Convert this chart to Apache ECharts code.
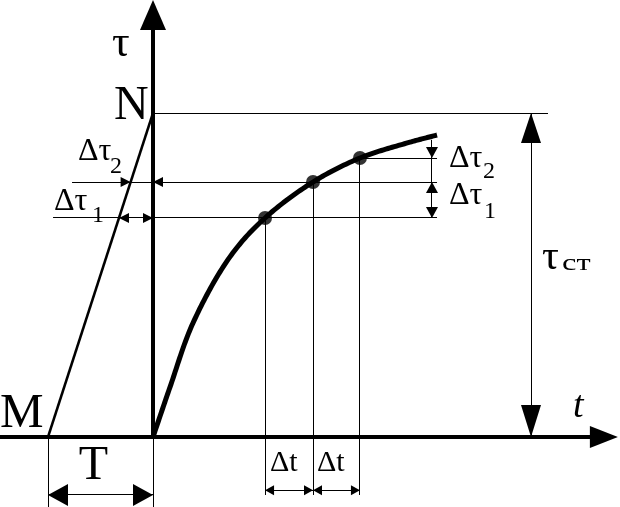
<!DOCTYPE html>
<html><head><meta charset="utf-8">
<script src="https://cdn.jsdelivr.net/npm/echarts@6/dist/echarts.min.js"></script>
<style>html,body{margin:0;padding:0;background:#fff}#c{width:620px;height:507px}</style>
</head><body><div id="c"></div>
<script>
// ---------- data (units: T = 1 on the t axis, tau_st = 1 on the tau axis) ----------
const T = 1;
const tauSt = 1;
const curveT   = [0, 0.162, 0.381, 0.733, 1.067, 1.524, 1.971, 2.448, 2.705];
const curveTau = [0, 0.154, 0.352, 0.556, 0.676, 0.787, 0.861, 0.910, 0.932];
const markT   = [1.067, 1.524, 1.971];
const markTau = [0.676, 0.787, 0.861];

// ---------- layout (data units) ----------
const X_MIN = -153 / 105, X_MAX = 467 / 105;
const Y_MIN = -70 / 324,  Y_MAX = 437 / 324;
const leftStart = [-0.952, -0.771];   // left ends of the tau1 / tau2 guide lines
const guideEnd = 2.705;               // right end of guide lines
const topLineEnd = 3.762;
const dimTauX = 2.657;                // x of the delta-tau dimension
const dimTauTop = 0.917;
const stArrowX = 3.6;                 // x of tau_st dimension
const dropBottom = -0.179;
const dtArrowY = -0.164;
const tArrowY = -0.179;

const chart = echarts.init(document.getElementById('c'), null, {renderer: 'canvas'});

function snap(v, w) { return (Math.round(w) % 2 === 1) ? Math.floor(v) + 0.5 : Math.round(v); }

// centripetal Catmull-Rom through pixel points (rendering only)
function catmull(pts, steps) {
  const out = [];
  const n = pts.length;
  const get = i => pts[Math.max(0, Math.min(n - 1, i))];
  for (let i = 0; i < n - 1; i++) {
    let p0 = get(i - 1), p1 = get(i), p2 = get(i + 1), p3 = get(i + 2);
    if (i === 0) p0 = [2 * p1[0] - p2[0], 2 * p1[1] - p2[1]];
    if (i === n - 2) p3 = [2 * p2[0] - p1[0], 2 * p2[1] - p1[1]];
    const d = (a, b) => Math.pow(Math.hypot(b[0] - a[0], b[1] - a[1]), 0.5) || 1e-4;
    const t0 = 0, t1 = t0 + d(p0, p1), t2 = t1 + d(p1, p2), t3 = t2 + d(p2, p3);
    for (let s = 0; s < steps; s++) {
      const t = t1 + (t2 - t1) * s / steps;
      const L = (a, b, ta, tb) => [
        (tb - t) / (tb - ta) * a[0] + (t - ta) / (tb - ta) * b[0],
        (tb - t) / (tb - ta) * a[1] + (t - ta) / (tb - ta) * b[1]];
      const A1 = L(p0, p1, t0, t1), A2 = L(p1, p2, t1, t2), A3 = L(p2, p3, t2, t3);
      const B1 = L(A1, A2, t0, t2), B2 = L(A2, A3, t1, t3);
      out.push(L(B1, B2, t1, t2));
    }
  }
  out.push(pts[n - 1]);
  return out;
}

function renderCurve(params, api) {
  const pts = curveT.map((t, i) => api.coord([t, curveTau[i]]));
  return {type: 'polyline', shape: {points: catmull(pts, 24)},
    style: {stroke: '#000', lineWidth: 5, fill: null, lineJoin: 'round'}};
}

function renderAll(params, api) {
  const children = [];
  const P = p => api.coord(p);
  function seg(a, b, w) {
    const A = P(a), B = P(b);
    let x1 = A[0], y1 = A[1], x2 = B[0], y2 = B[1];
    if (Math.abs(x1 - x2) < 0.01) { x1 = x2 = snap(x1, w); }
    if (Math.abs(y1 - y2) < 0.01) { y1 = y2 = snap(y1, w); }
    children.push({type: 'line', shape: {x1, y1, x2, y2}, style: {stroke: '#000', lineWidth: w}});
  }
  function head(tip, dir, len, hw) {
    const t = P(tip);
    const d = {l: [-1, 0], r: [1, 0], u: [0, -1], d: [0, 1]}[dir];
    const bx = t[0] - d[0] * len, by = t[1] - d[1] * len;
    const px = -d[1], py = d[0];
    children.push({type: 'polygon', shape: {points: [[t[0], t[1]], [bx + px * hw, by + py * hw], [bx - px * hw, by - py * hw]]},
      style: {fill: '#000'}});
  }
  // main axes
  seg([X_MIN, 0], [X_MAX - 0.2, 0], 4);
  head([X_MAX - 0.02, 0], 'r', 28, 11);
  seg([0, 0], [0, Y_MAX - 0.05], 4);
  head([0, Y_MAX], 'u', 30, 13);

  // horizontal line from N
  seg([0, tauSt], [topLineEnd, tauSt], 1);
  // guide lines tau1, tau2, tau3
  seg([leftStart[0], markTau[0]], [guideEnd, markTau[0]], 1);
  seg([leftStart[1], markTau[1]], [guideEnd, markTau[1]], 1);
  seg([markT[2], markTau[2]], [guideEnd, markTau[2]], 1);
  // drop lines
  for (let i = 0; i < markT.length; i++) seg([markT[i], markTau[i]], [markT[i], dropBottom], 1);
  // T extension lines
  seg([-T, 0], [-T, Y_MIN], 1);
  seg([0, 0], [0, Y_MIN], 1);

  // left delta-tau arrowheads (on the line M-N and on the axis)
  const xMN = tau => -T + T * tau / tauSt;
  head([xMN(markTau[1]), markTau[1]], 'r', 10, 5);
  head([0, markTau[1]], 'l', 10, 5);
  head([xMN(markTau[0]), markTau[0]], 'l', 10, 5);
  head([0, markTau[0]], 'r', 10, 5);

  // right delta-tau dimension
  seg([dimTauX, dimTauTop], [dimTauX, markTau[0]], 1);
  head([dimTauX, markTau[2]], 'd', 11, 6);
  head([dimTauX, markTau[1]], 'u', 11, 6);
  head([dimTauX, markTau[0]], 'd', 11, 6);

  // tau_st dimension
  seg([stArrowX, tauSt], [stArrowX, 0], 1);
  head([stArrowX, tauSt], 'u', 30, 10);
  head([stArrowX, 0], 'd', 32, 10);

  // delta t dimensions
  for (let i = 0; i < 2; i++) {
    seg([markT[i], dtArrowY], [markT[i + 1], dtArrowY], 1);
    head([markT[i], dtArrowY], 'l', 9, 5);
    head([markT[i + 1], dtArrowY], 'r', 9, 5);
  }
  // T dimension
  seg([-T, tArrowY], [0, tArrowY], 1);
  head([-T, tArrowY], 'l', 20, 11);
  head([0, tArrowY], 'r', 20, 11);

  return {type: 'group', children};
}

const SERIF = '"Liberation Serif", "Times New Roman", serif';
function txt(text, x, y, size, extra, elExtra) {
  return Object.assign({type: 'text', x, y, silent: true,
    style: Object.assign({text, fill: '#000', fontFamily: SERIF, fontSize: size,
      align: 'left', verticalAlign: 'middle', textAlign: 'left', textVerticalAlign: 'middle'}, extra || {})}, elExtra || {});
}

chart.setOption({
  animation: false,
  backgroundColor: '#fff',
  grid: {left: 0, right: 0, top: 0, bottom: 0, containLabel: false},
  xAxis: {type: 'value', min: X_MIN, max: X_MAX, show: false},
  yAxis: {type: 'value', min: Y_MIN, max: Y_MAX, show: false},
  series: [
    {type: 'custom', renderItem: renderAll, data: [[0, 0]], clip: false, silent: true, z: 1},
    {type: 'line', data: [[-T, 0], [0, tauSt]], showSymbol: false, lineStyle: {color: '#000', width: 2.5}, z: 2, silent: true},
    {type: 'custom', renderItem: renderCurve, data: [[curveT[0], curveTau[0]]], clip: false, silent: true, z: 3},
    {type: 'scatter', data: markT.map((t, i) => [t, markTau[i]]), symbol: 'circle', symbolSize: 14,
      itemStyle: {color: '#000'}, z: 4, silent: true}
  ],
  graphic: [
    txt('τ', 112, 44, 44),
    txt('N', 114, 106, 48),
    txt('M', 0, 414, 49),
    txt('T', 93.5, 466, 48, {align: 'center', textAlign: 'center'}),
    txt('Δt', 270, 463, 30),
    txt('Δt', 317, 463, 30),
    txt('Δτ', 78, 152, 32),
    txt('2', 110, 167, 24),
    txt('Δτ', 54, 202, 32),
    txt('1', 92, 216, 24),
    txt('Δτ', 449, 159, 32),
    txt('2', 483, 172, 24),
    txt('Δτ', 449, 196, 32),
    txt('1', 484, 212, 24),
    txt('τ', 542, 258, 42),
    txt('ст', 562, 264, 24, {}, {scaleX: 1.35}),
    txt('t', 573, 407, 38, {fontStyle: 'italic'})
  ]
});
</script></body></html>
